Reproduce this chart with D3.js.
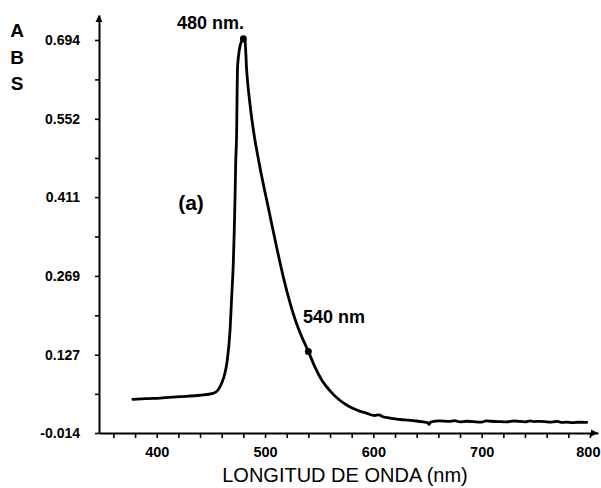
<!DOCTYPE html>
<html>
<head>
<meta charset="utf-8">
<script src="https://cdn.jsdelivr.net/npm/d3@7"></script>
<style>
  html, body { margin: 0; padding: 0; background: #fff; }
  svg { display: block; }
  text { font-family: "Liberation Sans", Arial, sans-serif; fill: #000; }
</style>
</head>
<body>
<svg id="chart" width="601" height="488"></svg>
<script>
// Absorption spectrum: wavelength (nm) vs absorbance
const wavelength = [
  378, 390, 403, 421, 440, 452, 456.6, 460, 463, 465,
  467.7, 469.2, 470.7, 471.6, 472.3, 472.9, 473.8, 474.1, 474.5, 475.5,
  477, 478.5, 480, 481.5, 483, 486, 490, 494, 498, 503,
  506, 511, 517, 523, 531.6, 535.3, 540, 546, 552.3, 560,
  569, 575, 581, 588, 594, 601, 605, 609, 613, 617,
  625, 632, 640, 646, 650, 651.5, 653, 661, 670, 675,
  680, 686, 692, 700, 704, 708, 715, 723, 730, 740,
  745, 748, 754, 762, 770, 774, 778, 784, 790, 797
];
const absorbance = [
  0.0467, 0.048, 0.049, 0.0514, 0.054, 0.0575, 0.0635, 0.076, 0.094, 0.115,
  0.1716, 0.2315, 0.2917, 0.3517, 0.4117, 0.472, 0.532, 0.58, 0.64, 0.665,
  0.684, 0.692, 0.696, 0.692, 0.64, 0.58, 0.522, 0.478, 0.438, 0.392,
  0.364, 0.318, 0.266, 0.221, 0.17, 0.153, 0.133, 0.105, 0.0815, 0.062,
  0.045, 0.037, 0.0305, 0.025, 0.0215, 0.0175, 0.0185, 0.0152, 0.0135, 0.0125,
  0.0103, 0.0092, 0.0076, 0.006, 0.0048, 0.0015, 0.0058, 0.0078, 0.0068, 0.0082,
  0.0060, 0.0072, 0.0064, 0.0055, 0.0078, 0.0072, 0.0066, 0.0060, 0.0076, 0.0060,
  0.0078, 0.0066, 0.0070, 0.0056, 0.0068, 0.0050, 0.0056, 0.0046, 0.0054, 0.005
];

// Marked wavelengths and their labels
const markerNm = [480, 540];
const markerAbs = [0.696, 0.133];
const markerLabels = ["480 nm.", "540 nm"];

// Axis ticks
const yTickValues = [-0.014, 0.127, 0.269, 0.411, 0.552, 0.694];
const yTickLabels = ["-0.014", "0.127", "0.269", "0.411", "0.552", "0.694"];
const xTickValues = d3.range(360, 801, 20);
const xTickLabels = [400, 500, 600, 700, 800];

const xTitle = "LONGITUD DE ONDA (nm)";
const yTitle = ["A", "B", "S"];
const panelTag = "(a)";

const svg = d3.select("#chart");

const x = d3.scaleLinear().domain([346.7, 807.4]).range([99, 598]);
const y = d3.scaleLinear().domain([-0.014, 0.739]).range([433, 15]);

// Minor y ticks halfway between labelled values
const yMinor = yTickValues.slice(0, -1).map((v, i) => (v + yTickValues[i + 1]) / 2);

// X axis
const gx = svg.append("g")
  .attr("transform", `translate(0,${y(-0.014)})`)
  .call(d3.axisBottom(x)
    .tickValues(xTickValues)
    .tickSize(5)
    .tickSizeOuter(0)
    .tickPadding(9)
    .tickFormat(d => xTickLabels.includes(d) ? String(d) : ""));
gx.select(".domain").attr("stroke", "#000").attr("stroke-width", 2);
gx.selectAll(".tick line").attr("stroke", "#000").attr("stroke-width", 1.6);
gx.selectAll(".tick text")
  .style("font-family", "'Liberation Sans', Arial, sans-serif")
  .style("font-size", "14.5px").style("font-weight", "bold").attr("fill", "#000");
// keep the last label inside the right edge
gx.selectAll(".tick text").filter(d => d === 800)
  .attr("text-anchor", "end").attr("x", 10);

// Y axis
const gy = svg.append("g")
  .attr("transform", `translate(${x(346.7)},0)`)
  .call(d3.axisLeft(y)
    .tickValues(yTickValues.concat(yMinor))
    .tickSize(4)
    .tickSizeOuter(0)
    .tickPadding(15)
    .tickFormat(d => {
      const i = yTickValues.indexOf(d);
      return i >= 0 ? yTickLabels[i] : "";
    }));
gy.select(".domain").attr("stroke", "#000").attr("stroke-width", 2);
gy.selectAll(".tick line").attr("stroke", "#000").attr("stroke-width", 1.6);
gy.selectAll(".tick text")
  .style("font-family", "'Liberation Sans', Arial, sans-serif")
  .style("font-size", "14px").style("font-weight", "bold").attr("fill", "#000");

// Arrowheads at the ends of both axes
const ax = x.range()[1], ay = y(-0.014);
svg.append("path")
  .attr("d", `M${ax},${ay} L${ax - 7},${ay - 3.5} L${ax - 7},${ay + 3.5} Z`)
  .attr("fill", "#000");
const tx = x(346.7), ty = y.range()[1];
svg.append("path")
  .attr("d", `M${tx},${ty} L${tx - 3.5},${ty + 7} L${tx + 3.5},${ty + 7} Z`)
  .attr("fill", "#000");

// Spectrum line
const pts = wavelength.map((w, i) => [w, absorbance[i]]);
svg.append("path")
  .datum(pts)
  .attr("fill", "none")
  .attr("stroke", "#000")
  .attr("stroke-width", 2.8)
  .attr("stroke-linejoin", "round")
  .attr("stroke-linecap", "round")
  .attr("d", d3.line().x(d => x(d[0])).y(d => y(d[1])).curve(d3.curveMonotoneX));

// Marker dots
svg.selectAll("circle.marker")
  .data(markerNm)
  .join("circle")
  .attr("class", "marker")
  .attr("cx", d => x(d))
  .attr("cy", (d, i) => y(markerAbs[i]))
  .attr("r", 3.5)
  .attr("fill", "#000");

// Marker labels
svg.append("text").attr("x", 177).attr("y", 29)
  .style("font-size", "18px").style("font-weight", "bold")
  .text(markerLabels[0]);
svg.append("text").attr("x", 303).attr("y", 323)
  .style("font-size", "18px").style("font-weight", "bold")
  .text(markerLabels[1]);

// Panel tag
svg.append("text").attr("x", 191).attr("y", 210)
  .attr("text-anchor", "middle")
  .style("font-size", "21px").style("font-weight", "bold")
  .text(panelTag);

// Axis titles
svg.append("text").attr("x", 345).attr("y", 482)
  .attr("text-anchor", "middle")
  .style("font-size", "20px")
  .text(xTitle);

svg.selectAll("text.ytitle")
  .data(yTitle)
  .join("text")
  .attr("class", "ytitle")
  .attr("x", 17)
  .attr("y", (d, i) => 37 + i * 26.5)
  .attr("text-anchor", "middle")
  .style("font-size", "19px").style("font-weight", "bold")
  .text(d => d);
</script>
</body>
</html>
